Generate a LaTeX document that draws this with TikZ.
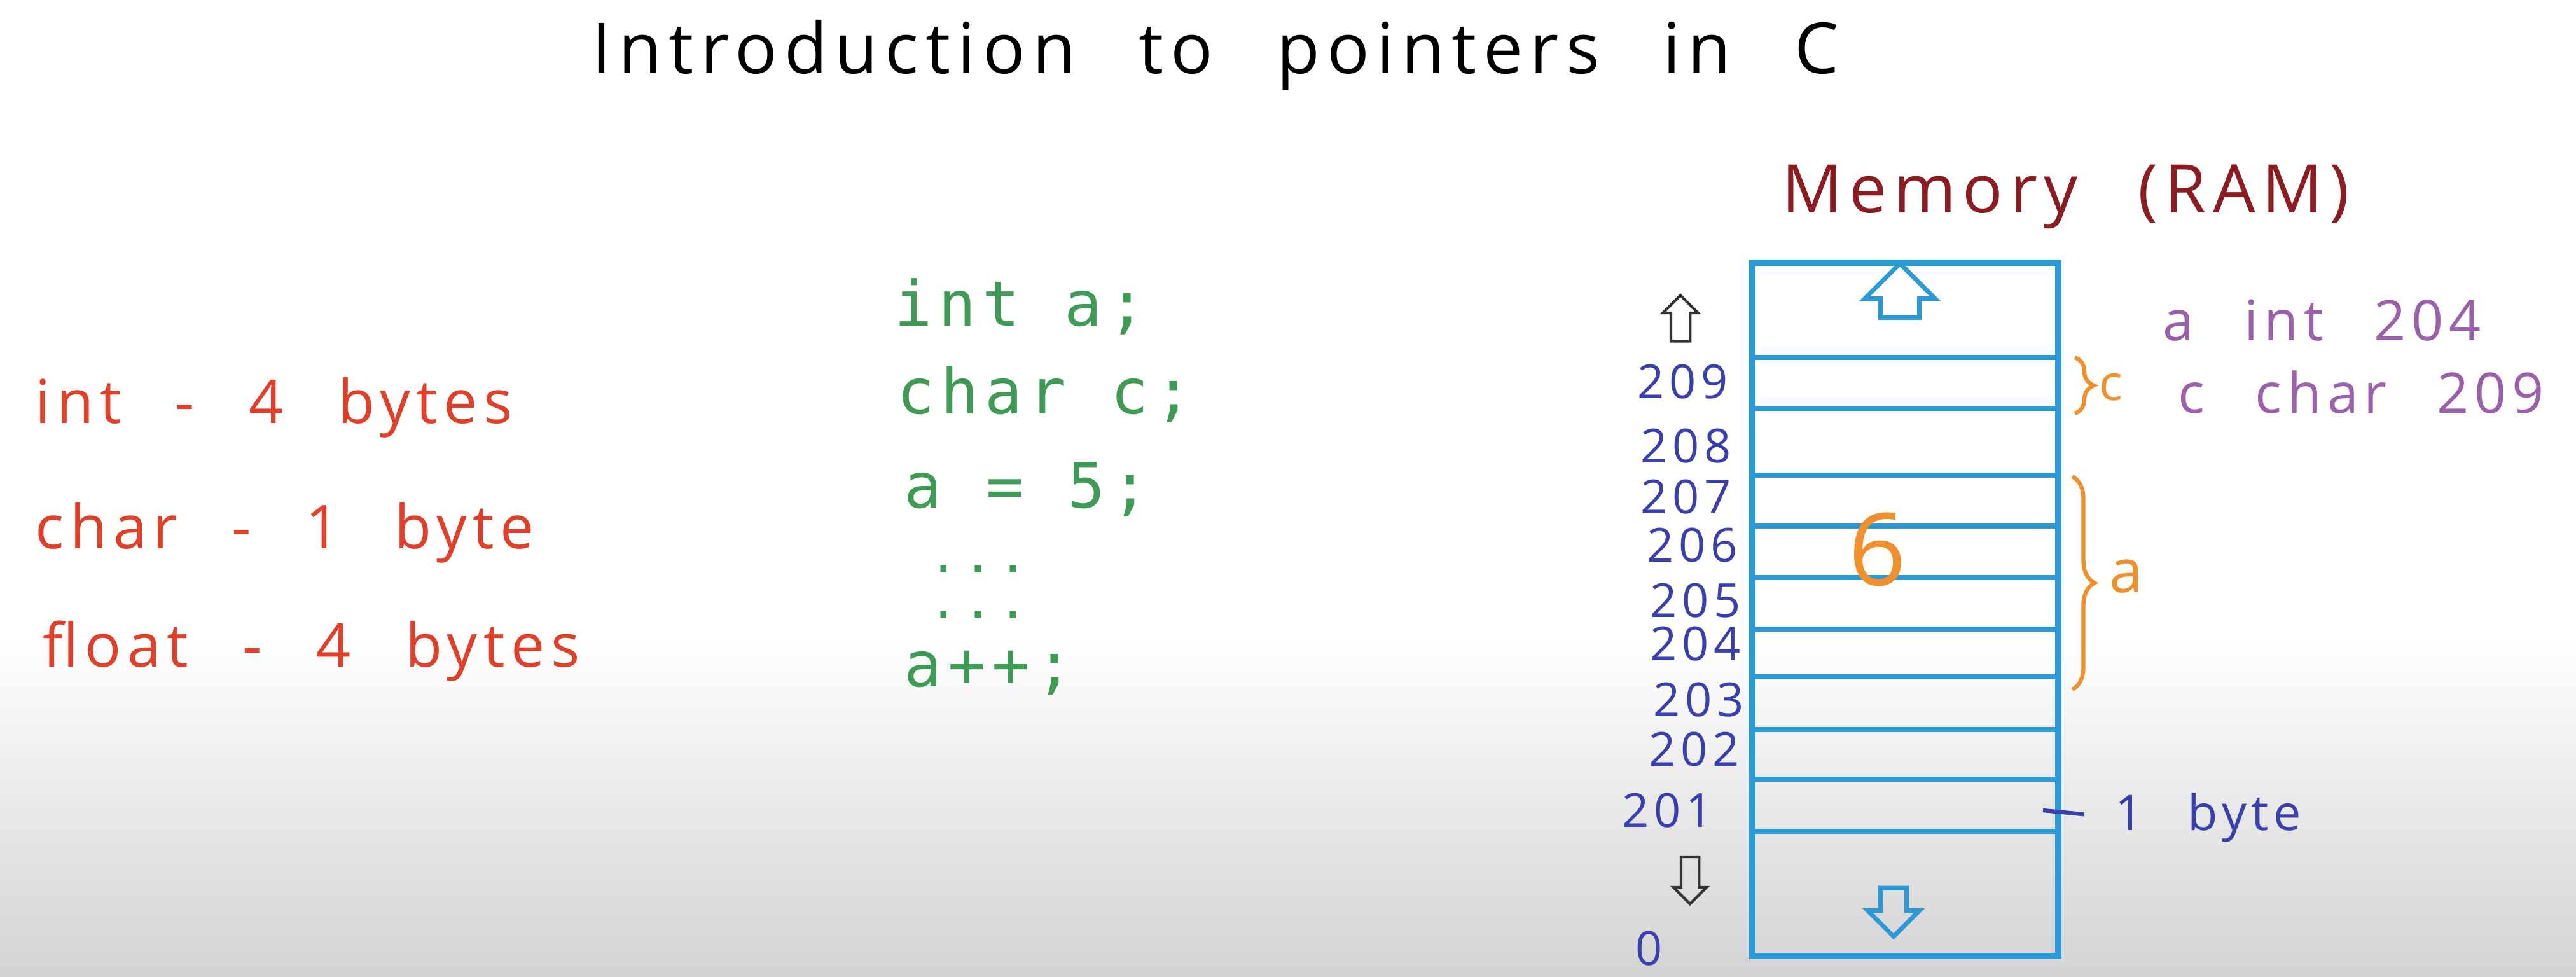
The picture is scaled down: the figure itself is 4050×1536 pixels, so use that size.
\documentclass[tikz,border=0pt]{standalone}
\usepackage{fontspec}
\usetikzlibrary{shapes.arrows,decorations.pathreplacing}
\newfontfamily\hand{Open Sans}[LetterSpace=10,WordSpace=2.5]
\newfontfamily\handcode{DejaVu Sans Mono}[LetterSpace=10]
\newcommand\fsz[1]{\fontsize{#1}{#1}\selectfont}
\definecolor{inkmaroon}{HTML}{8A1C22}
\definecolor{inkred}{HTML}{E0402A}
\definecolor{inkgreen}{HTML}{3F9A55}
\definecolor{inkblue}{HTML}{3A3FAE}
\definecolor{inkpurple}{HTML}{9A60AA}
\definecolor{inkorange}{HTML}{F0902C}
\definecolor{cellblue}{HTML}{2B9AD6}
\definecolor{bggray}{HTML}{D3D3D3}
\begin{document}
\begin{tikzpicture}[
  x=0.01cm,y=-0.01cm,
  txt/.style={anchor=base west,inner sep=0pt},
  heading/.style={txt,font=\hand\fsz{31.5pt}},
  ramlabel/.style={txt,text=inkmaroon,font=\hand\fsz{30pt}},
  sizes/.style={txt,text=inkred,font=\hand\fsz{27pt}},
  code/.style={txt,text=inkgreen,font=\handcode\fsz{28pt}},
  dots/.style={txt,text=inkgreen,font=\handcode\fsz{22pt}},
  addr/.style={anchor=base east,inner sep=0pt,text=inkblue,font=\hand\fsz{21pt}},
  var/.style={txt,text=inkpurple,font=\hand\fsz{25pt}},
  cell/.style={draw=cellblue,line width=2.2pt},
  hollow/.style={single arrow,draw,inner sep=0pt,single arrow head indent=0pt,minimum width=0pt},
  brace/.style={draw=inkorange,line width=1.8pt,decorate,decoration={brace,amplitude=#1}}
]
  \fill[white] (0,0) rectangle (4050,1536);
  \shade[top color=white,bottom color=bggray] (0,1000) rectangle (4050,1536);
  \useasboundingbox (0,0) rectangle (4050,1536);

  \node[heading] (title) at (930,115) {Introduction to pointers in C};
  \node[ramlabel] (ram) at (2801,334) {Memory (RAM)};

  \node[sizes] (szint) at (55,665) {int - 4 bytes};
  \node[sizes] (szchar) at (55,862) {char - 1 byte};
  \node[sizes] (szfloat) at (67,1048) {float - 4 bytes};

  \node[code] (decla) at (1406,512) {int a;};
  \node[code] (declc) at (1410,650) {char c;};
  \node[code] (assign) at (1421,798) {a = 5;};
  \node[dots] (dots1) at (1460,900) {...};
  \node[dots] (dots2) at (1460,972) {...};
  \node[code] (incr) at (1421,1079) {a++;};

  \draw[cell,line width=2.8pt] (2755,413) rectangle (3236,1503);
  \foreach \y in {562,642,747,827,908,989,1064,1147,1225,1307}
    \draw[cell] (2755,\y) -- (3236,\y);

  \foreach \n/\x/\y in {209/2717/626,208/2722/727,207/2722/807,206/2732/883,205/2737/970,
                        204/2737/1038,203/2742/1126,202/2735/1204,201/2693/1300,0/2614/1517}
    \node[addr] (addr\n) at (\x,\y) {\n};

  \node[hollow,draw=cellblue,line width=2pt,rotate=90,inner ysep=0.27cm,
        single arrow head extend=0.25cm,minimum height=0.85cm] (up) at (2987,472) {};
  \node[hollow,draw=cellblue,line width=2pt,rotate=-90,inner ysep=0.17cm,
        single arrow head extend=0.2cm,minimum height=0.76cm] (down) at (2977,1424) {};
  \node[hollow,draw=black!80,line width=1.2pt,rotate=90,inner ysep=0.13cm,
        single arrow head extend=0.125cm,minimum height=0.72cm] (upaddr) at (2642,508) {};
  \node[hollow,draw=black!80,line width=1.2pt,rotate=-90,inner ysep=0.12cm,
        single arrow head extend=0.12cm,minimum height=0.74cm] (downaddr) at (2657,1377) {};

  \node[anchor=base,inner sep=0pt,text=inkorange,font=\hand\fsz{45pt}] (val) at (2952,920) {6};

  \coordinate (ctop) at (3262,562);
  \coordinate (cbot) at (3262,650);
  \draw[brace=0.3cm] (ctop) -- (cbot);
  \node[txt,text=inkorange,font=\hand\fsz{22pt}] (cname) at (3300,629) {c};
  \coordinate (atop) at (3258,749);
  \coordinate (abot) at (3258,1084);
  \draw[brace=0.35cm] (atop) -- (abot);
  \node[txt,text=inkorange,font=\hand\fsz{27pt}] (aname) at (3316,931) {a};

  \node[var] (vara) at (3400,535) {a int 204};
  \node[var] (varc) at (3424,649) {c char 209};

  \coordinate (tick) at (3212,1274);
  \node[txt,text=inkblue,font=\hand\fsz{22pt}] (onebyte) at (3325,1305) {1 byte};
  \draw[inkblue,line width=1.8pt,shorten >=0.49cm] (tick) -- (onebyte.west);
\end{tikzpicture}
\end{document}
